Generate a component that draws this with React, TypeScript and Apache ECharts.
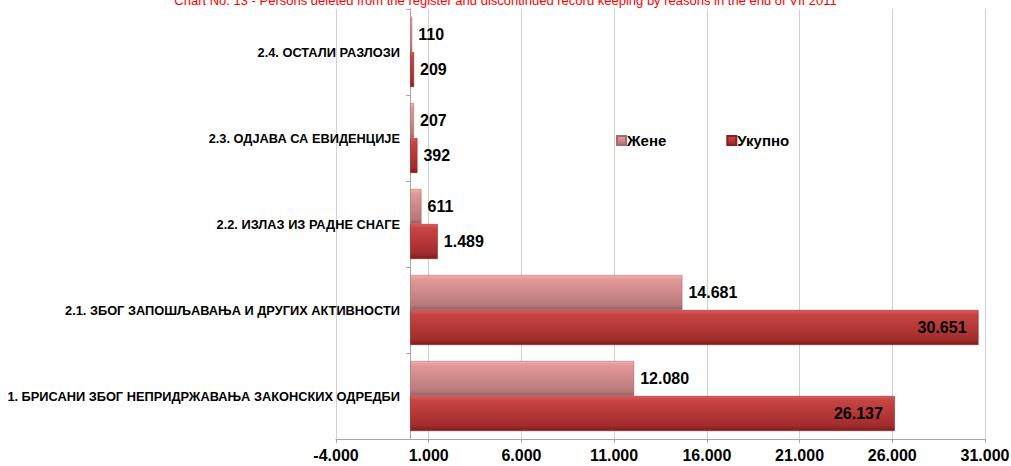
import React, { useEffect, useRef } from "react";
import * as echarts from "echarts";

const categories = [
  "1. БРИСАНИ ЗБОГ НЕПРИДРЖАВАЊА ЗАКОНСКИХ ОДРЕДБИ",
  "2.1. ЗБОГ ЗАПОШЉАВАЊА И ДРУГИХ АКТИВНОСТИ",
  "2.2. ИЗЛАЗ ИЗ РАДНЕ СНАГЕ",
  "2.3. ОДЈАВА СА ЕВИДЕНЦИЈЕ",
  "2.4. ОСТАЛИ РАЗЛОЗИ",
];
const zeneValues = [12080, 14681, 611, 207, 110];
const ukupnoValues = [26137, 30651, 1489, 392, 209];
const tickValues = [-4000, 1000, 6000, 11000, 16000, 21000, 26000, 31000];
const seriesNames = ["Жене", "Укупно"];
const titleText =
  "Chart No. 13 - Persons deleted from the register and discontinued record keeping by reasons in the end of VII 2011";

const fmt = (v: number) => {
  const neg = v < 0;
  const s = Math.abs(v).toString().replace(/\B(?=(\d{3})+(?!\d))/g, ".");
  return (neg ? "-" : "") + s;
};

const FONT = "'Liberation Sans', Arial, sans-serif";

export default function App() {
  const ref = useRef<HTMLDivElement>(null);
  useEffect(() => {
    if (!ref.current) return;
    const chart = echarts.init(ref.current, undefined, { renderer: "svg" });
    const labelStyle = {
      show: true,
      color: "#000",
      fontWeight: "bold" as const,
      fontSize: 16,
      fontFamily: FONT,
      formatter: (p: any) => fmt(p.value),
    };
    const zeneColor = new echarts.graphic.LinearGradient(0, 0, 0, 1, [
      { offset: 0, color: "#eeb0b0" },
      { offset: 0.12, color: "#e49898" },
      { offset: 0.85, color: "#b87a7a" },
      { offset: 1, color: "#9a5c5c" },
    ]);
    const ukupnoColor = new echarts.graphic.LinearGradient(0, 0, 0, 1, [
      { offset: 0, color: "#dc5a5a" },
      { offset: 0.12, color: "#c84444" },
      { offset: 0.85, color: "#a22c2c" },
      { offset: 1, color: "#7a1c1c" },
    ]);
    chart.setOption({
      animation: false,
      backgroundColor: "#fff",
      graphic: [
        {
          type: "text",
          left: "center",
          top: -6,
          style: {
            text: titleText,
            fill: "#ff0000",
            font: "13px " + FONT,
          },
        },
      ],
      legend: {
        data: seriesNames,
        left: 611,
        top: 128,
        itemWidth: 9,
        itemHeight: 9,
        itemGap: 60,
        icon: "rect",
        textStyle: {
          color: "#000",
          fontWeight: "bold",
          fontSize: 15,
          fontFamily: FONT,
          padding: [0, 0, 0, -4],
        },
      },
      grid: {
        left: 336,
        right: 26,
        top: 9,
        bottom: 27,
        containLabel: false,
        outerBoundsMode: "none",
      },
      xAxis: {
        type: "value",
        min: -4000,
        max: 31000,
        axisLine: { show: true, lineStyle: { color: "#a6a6a6" } },
        axisTick: { show: true, customValues: tickValues, length: 4, lineStyle: { color: "#a6a6a6" } },
        axisLabel: {
          customValues: tickValues,
          formatter: (v: number) => fmt(v),
          color: "#000",
          fontWeight: "bold",
          fontSize: 16,
          fontFamily: FONT,
          margin: 8,
        },
        splitLine: { show: true, customValues: tickValues, lineStyle: { color: "#d0d0d0" } },
      },
      yAxis: {
        type: "category",
        data: categories,
        axisLine: { show: true, onZero: true, lineStyle: { color: "#a6a6a6" } },
        axisTick: { show: true, length: 4, lineStyle: { color: "#a6a6a6" } },
        axisLabel: {
          color: "#000",
          fontWeight: "bold",
          fontSize: 12.8,
          fontFamily: FONT,
          margin: -64,
        },
      },
      series: [
        {
          name: seriesNames[0],
          type: "bar",
          barWidth: 35,
          barGap: "0%",
          data: zeneValues,
          itemStyle: { color: zeneColor, borderColor: "#a86a6a", borderWidth: 0.5 },
          label: { ...labelStyle, position: "right", distance: 6 },
        },
        {
          name: seriesNames[1],
          type: "bar",
          barWidth: 35,
          barGap: "0%",
          data: ukupnoValues.map((v) =>
            v > 20000
              ? { value: v, label: { position: "insideRight", distance: 12 } }
              : { value: v }
          ),
          itemStyle: { color: ukupnoColor, borderColor: "#8a2020", borderWidth: 0.5 },
          label: { ...labelStyle, position: "right", distance: 6 },
        },
      ],
    });
    return () => chart.dispose();
  }, []);
  return (
    <div
      ref={ref}
      style={{ position: "fixed", left: 0, top: 0, width: 1011, height: 466 }}
    />
  );
}
